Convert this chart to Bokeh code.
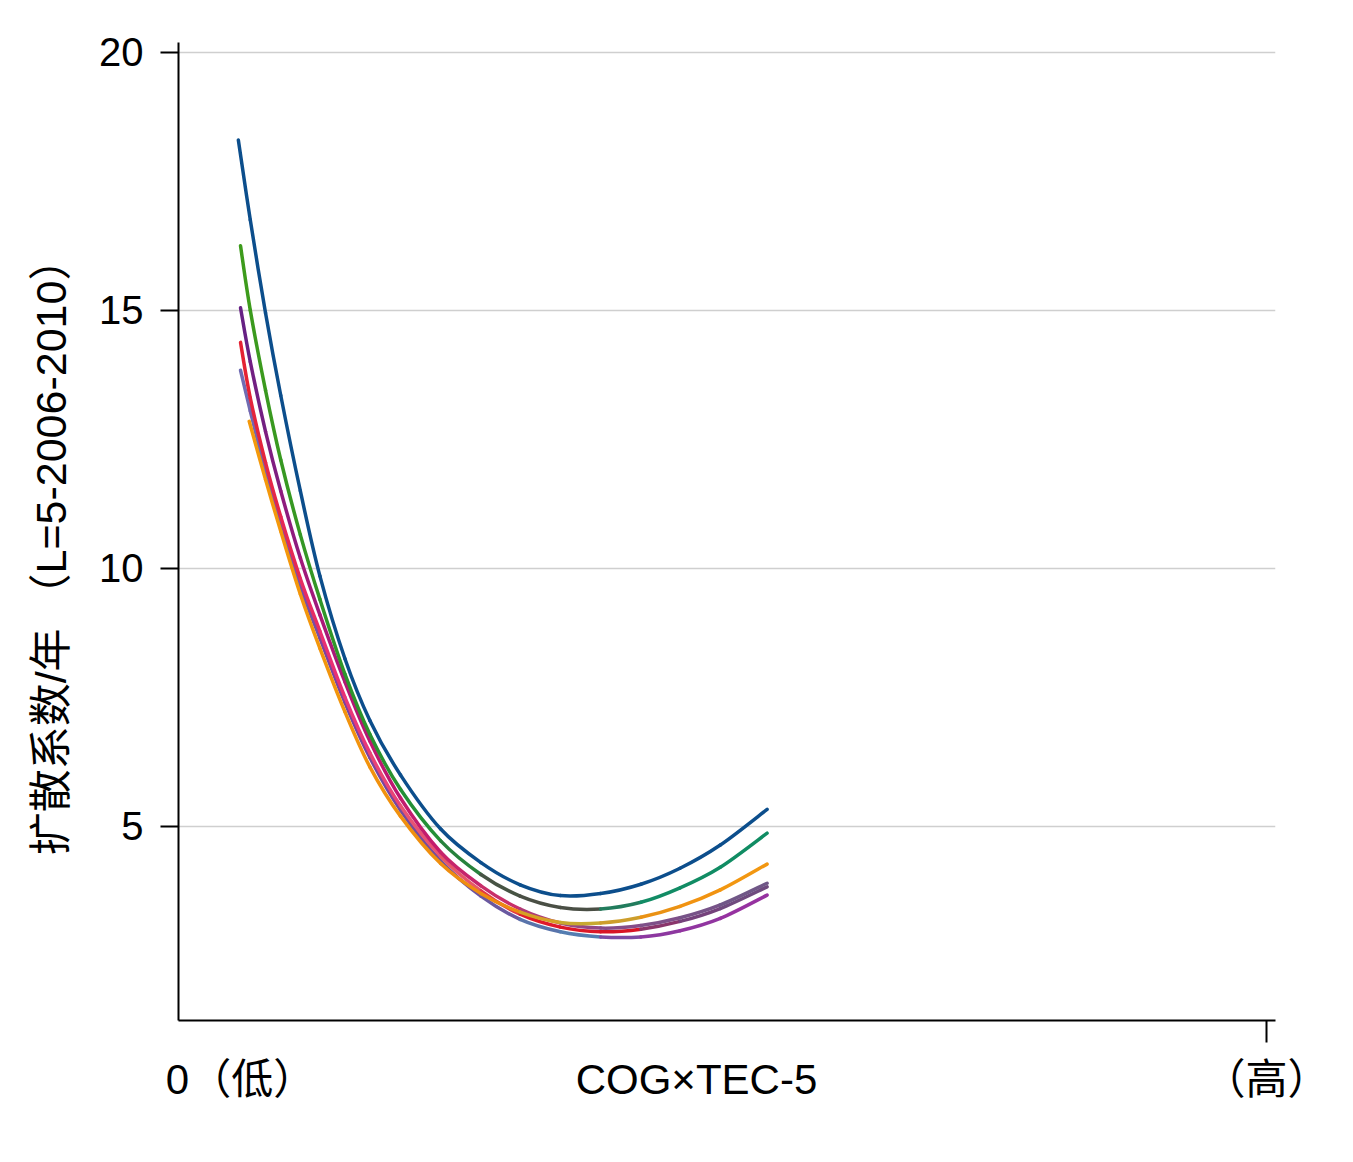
import math

from bokeh.plotting import figure
from bokeh.models import Range1d, FixedTicker, LinearAxis
from bokeh.embed import file_html
from bokeh.resources import INLINE

# ---- data: dispersion coefficient vs. COG x TEC-5 (x scaled 0 = low .. 1 = high)
X_COMMON = [0.066, 0.080, 0.094, 0.112, 0.130, 0.153, 0.176, 0.204, 0.241,
            0.278, 0.314, 0.351, 0.388, 0.425, 0.461, 0.498, 0.541]

blue_x = [0.055] + X_COMMON
blue_y = [18.30, 16.75, 14.95, 13.35, 11.50, 9.85, 8.25, 7.05, 6.00, 4.95,
          4.30, 3.87, 3.66, 3.70, 3.88, 4.19, 4.64, 5.33]

green_x = [0.057] + X_COMMON
green_y = [16.25, 15.00, 13.45, 12.10, 10.65, 9.40, 7.95, 6.78, 5.72, 4.72,
           4.07, 3.65, 3.43, 3.40, 3.53, 3.81, 4.21, 4.87]

purple_x = [0.057] + X_COMMON
purple_y = [15.05, 14.00, 12.65, 11.50, 10.20, 9.10, 7.80, 6.65, 5.55, 4.50,
            3.85, 3.40, 3.13, 3.03, 3.08, 3.23, 3.48, 3.90]

red_x = [0.057] + X_COMMON
red_y = [14.38, 13.30, 12.05, 11.00, 9.80, 8.78, 7.50, 6.42, 5.40, 4.42,
         3.75, 3.30, 3.05, 2.96, 3.01, 3.16, 3.41, 3.83]

lavender_x = [0.057] + X_COMMON
lavender_y = [13.84, 13.05, 11.88, 10.85, 9.65, 8.65, 7.40, 6.33, 5.32, 4.33,
              3.65, 3.20, 2.96, 2.86, 2.86, 2.98, 3.22, 3.67]

orange_x = [0.065] + X_COMMON[1:]
orange_y = [12.85, 11.72, 10.72, 9.50, 8.45, 7.22, 6.15, 5.20, 4.28,
            3.70, 3.34, 3.14, 3.13, 3.24, 3.45, 3.77, 4.27]

Y_TICKS = [5, 10, 15, 20]
X_TICKS = [1.0]
X_LOW_LABEL = "0（低）"
X_HIGH_LABEL = "（高）"
X_TITLE = "COG×TEC-5"
Y_TITLE = "扩散系数/年 （L=5-2006-2010）"

# ---- colour stops along each curve (position on x axis, colour)
STOPS = {
    "blue": [(0.0, "#0c4e8c"), (1.0, "#0c4e8c")],
    "green": [(0.05, "#3f9c1a"), (0.25, "#1f8e3a"), (0.30, "#4a4f45"),
              (0.37, "#4a4f45"), (0.42, "#138c66"), (0.55, "#0f8c62")],
    "purple": [(0.05, "#5b2386"), (0.12, "#a0197a"), (0.20, "#c2166e"),
               (0.30, "#c8306a"), (0.38, "#8a4a8a"), (0.55, "#6a5a86")],
    "red": [(0.05, "#e3202a"), (0.15, "#e8307a"), (0.25, "#e86070"),
            (0.33, "#e01a2a"), (0.41, "#d81525"), (0.45, "#7a3c7a"),
            (0.55, "#6a5080")],
    "lavender": [(0.05, "#6f72b6"), (0.15, "#7c3f9e"), (0.30, "#6a5aa0"),
                 (0.36, "#4a8ab4"), (0.42, "#8a3aa0"), (0.55, "#9a2fa0")],
    "orange": [(0.05, "#f59b0a"), (0.30, "#ee8a10"), (0.35, "#c8ae30"),
               (0.40, "#c8a030"), (0.45, "#f09010"), (0.55, "#f39a12")],
}


def _hex(c):
    c = c.lstrip("#")
    return [int(c[i:i + 2], 16) for i in (0, 2, 4)]


def colour_at(stops, x):
    if x <= stops[0][0]:
        return stops[0][1]
    for (x0, c0), (x1, c1) in zip(stops[:-1], stops[1:]):
        if x0 <= x <= x1:
            t = (x - x0) / (x1 - x0) if x1 > x0 else 0.0
            a, b = _hex(c0), _hex(c1)
            rgb = [round(a[i] + (b[i] - a[i]) * t) for i in range(3)]
            return "#%02x%02x%02x" % tuple(rgb)
    return stops[-1][1]


def smooth_pieces(xs, ys):
    """Catmull-Rom control points so each piece is drawn as a cubic Bezier."""
    n = len(xs)
    out = {k: [] for k in ("x0", "y0", "x1", "y1", "cx0", "cy0", "cx1", "cy1")}
    for i in range(n - 1):
        a = i - 1 if i > 0 else i
        d = i + 2 if i + 2 < n else i + 1
        out["x0"].append(xs[i]); out["y0"].append(ys[i])
        out["x1"].append(xs[i + 1]); out["y1"].append(ys[i + 1])
        out["cx0"].append(xs[i] + (xs[i + 1] - xs[a]) / 6)
        out["cy0"].append(ys[i] + (ys[i + 1] - ys[a]) / 6)
        out["cx1"].append(xs[i + 1] - (xs[d] - xs[i]) / 6)
        out["cy1"].append(ys[i + 1] - (ys[d] - ys[i]) / 6)
    return out


FONT = "Liberation Sans, Arial, Noto Sans CJK SC"

p = figure(width=1353, height=1162, output_backend="svg", toolbar_location=None,
           x_range=Range1d(0, 1.0083), y_range=Range1d(1.24, 20.19),
           min_border_left=178, min_border_right=78,
           min_border_top=42, min_border_bottom=142)

p.outline_line_color = None
p.background_fill_color = "white"
p.border_fill_color = "white"

# grid
p.xgrid.visible = False
p.ygrid.ticker = FixedTicker(ticks=Y_TICKS)
p.ygrid.grid_line_color = "#cfcfcf"
p.ygrid.grid_line_width = 1.5

# y axis
ya = p.yaxis[0]
ya.ticker = FixedTicker(ticks=Y_TICKS)
ya.axis_line_width = 2
ya.axis_line_color = "black"
ya.major_tick_line_width = 2
ya.major_tick_in = 0
ya.major_tick_out = 18
ya.minor_tick_line_color = None
ya.major_label_text_font = FONT
ya.major_label_text_font_size = "40px"
ya.major_label_text_color = "black"
ya.major_label_standoff = 17

# y title, carried by a bare axis so it sits in the left margin
y_title_axis = LinearAxis(ticker=FixedTicker(ticks=[16.41]),
                          major_label_overrides={16.41: Y_TITLE},
                          major_label_orientation=math.pi / 2,
                          major_label_text_font=FONT,
                          major_label_text_font_size="43px",
                          major_label_text_color="black",
                          major_label_standoff=45,
                          axis_line_color=None, major_tick_line_color=None,
                          minor_tick_line_color=None,
                          major_tick_in=0, major_tick_out=0)
p.add_layout(y_title_axis, "left")

# x axis: line and the single tick at the high end
xa = p.xaxis[0]
xa.ticker = FixedTicker(ticks=X_TICKS)
xa.major_label_overrides = {1: ""}
xa.axis_line_width = 2
xa.axis_line_color = "black"
xa.major_tick_line_width = 2
xa.major_tick_in = 0
xa.major_tick_out = 22
xa.minor_tick_line_color = None
xa.major_label_text_font_size = "1px"
xa.major_label_standoff = 0

# x texts (low end, title, high end) on one row below the axis
x_text_axis = LinearAxis(ticker=FixedTicker(ticks=[0.057, 0.4761, 1.0]),
                         major_label_overrides={0.057: X_LOW_LABEL,
                                                0.4761: X_TITLE,
                                                1: X_HIGH_LABEL},
                         major_label_text_font=FONT,
                         major_label_text_font_size="42px",
                         major_label_text_color="black",
                         major_label_standoff=13,
                         axis_line_color=None, major_tick_line_color=None,
                         minor_tick_line_color=None,
                         major_tick_in=0, major_tick_out=0)
p.add_layout(x_text_axis, "below")

# curves, drawn as smooth pieces so the colour can drift along each one
curves = [
    ("lavender", lavender_x, lavender_y),
    ("red", red_x, red_y),
    ("purple", purple_x, purple_y),
    ("orange", orange_x, orange_y),
    ("green", green_x, green_y),
    ("blue", blue_x, blue_y),
]
for name, xs, ys in curves:
    mids = [(a + b) / 2 for a, b in zip(xs[:-1], xs[1:])]
    cols = [colour_at(STOPS[name], m) for m in mids]
    pc = smooth_pieces(xs, ys)
    p.bezier(x0=pc["x0"], y0=pc["y0"], x1=pc["x1"], y1=pc["y1"],
             cx0=pc["cx0"], cy0=pc["cy0"], cx1=pc["cx1"], cy1=pc["cy1"],
             line_color=cols, line_width=3.5, line_cap="round")

open("out.html", "w").write(file_html(p, INLINE))
